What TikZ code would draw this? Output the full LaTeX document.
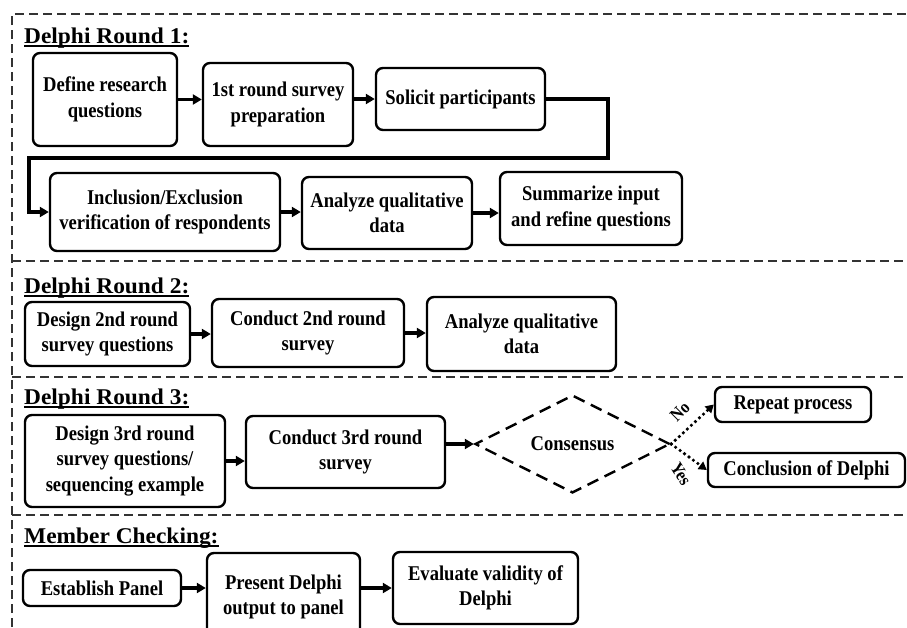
\documentclass[tikz,border=0pt]{standalone}
\usepackage{fontspec}
\usetikzlibrary{arrows.meta,positioning,shapes.geometric}
\newfontfamily\boxfont[FakeStretch=0.885]{Liberation Serif}
\newfontfamily\headfont[FakeStretch=1.04]{Liberation Serif}
\newcommand{\headline}[1]{\setbox0\hbox{#1}\rlap{\rule[-4pt]{\wd0}{1.8pt}}\box0}

\begin{document}
\begin{tikzpicture}[
 x=1pt,y=-1pt,
 box/.style={draw,rounded corners=7pt,line width=2.4pt,align=center,inner sep=2pt,
              font=\boxfont\bfseries\fontsize{21}{25.5}\selectfont},
 head/.style={anchor=base west,inner sep=0pt,
              font=\headfont\bfseries\fontsize{22.5}{26}\selectfont},
 decision/.style={diamond,draw,dash pattern=on 12pt off 7pt,line width=2.4pt,inner sep=0pt,
              font=\boxfont\bfseries\fontsize{21}{25.5}\selectfont},
 lbl/.style={inner sep=0pt,font=\boxfont\bfseries\fontsize{18}{20}\selectfont},
 arrow/.style={-{Triangle[length=9pt,width=10pt]},line width=3.2pt},
 dotarrow/.style={-{Triangle[length=8pt,width=9pt]},line width=3.6pt,line cap=round,
              dash pattern=on 0pt off 5.5pt},
 frame/.style={line width=1.3pt,dash pattern=on 9pt off 5pt,black!80}
]
\useasboundingbox (0,0) rectangle (907,627);

% dashed frame and section rules
\draw[frame] (12,627) -- (12,14) -- (907,14);
\draw[frame] (12,261) -- (907,261);
\draw[frame] (12,377) -- (907,377);
\draw[frame] (12,515) -- (907,515);

% Delphi round 1
\node[head] (t1) at (24,43) {\headline{Delphi Round 1:}};
\node[box,minimum width=144pt,minimum height=93pt] (b1) at (105,99.5) {Define research\\questions};
\node[box,minimum width=150pt,minimum height=83pt] (b2) at (278,104.5) {1st round survey\\preparation};
\node[box,minimum width=169pt,minimum height=62pt] (b3) at (460.5,99) {Solicit participants};
\node[box,minimum width=230pt,minimum height=78pt] (b4) at (165,212) {Inclusion/Exclusion\\verification of respondents};
\node[box,minimum width=170pt,minimum height=72pt] (b5) at (387,213) {Analyze qualitative\\data};
\node[box,minimum width=182pt,minimum height=73pt] (b6) at (591,208.5) {Summarize input\\and refine questions};
\coordinate (r1) at (608,158);
\coordinate (r2) at (29,158);
\draw[arrow] (b1.east) -- (b1.east -| b2.west);
\draw[arrow] (b3.west -| b2.east) -- (b3.west);
\draw[arrow] (b3.east) -| (r1) -- (r2) |- (b4.west);
\draw[arrow] (b4.east) -- (b4.east -| b5.west);
\draw[arrow] (b5.east) -- (b5.east -| b6.west);

% Delphi round 2
\node[head] (t2) at (24,293) {\headline{Delphi Round 2:}};
\node[box,minimum width=165pt,minimum height=64pt] (c1) at (107.5,334) {Design 2nd round\\survey questions};
\node[box,minimum width=192pt,minimum height=68pt] (c2) at (308,333) {Conduct 2nd round\\survey};
\node[box,minimum width=189pt,minimum height=74pt] (c3) at (521.5,334) {Analyze qualitative\\data};
\draw[arrow] (c1.east) -- (c1.east -| c2.west);
\draw[arrow] (c2.east) -- (c2.east -| c3.west);

% Delphi round 3
\node[head] (t3) at (24,404) {\headline{Delphi Round 3:}};
\node[box,minimum width=200pt,minimum height=92pt] (d1) at (125,461) {Design 3rd round\\survey questions/\\sequencing example};
\node[box,minimum width=199pt,minimum height=72pt] (d2) at (345.5,452) {Conduct 3rd round\\survey};
\node[decision,minimum width=195pt,minimum height=85pt] (dm) at (572.5,444) {Consensus};
\node[box,minimum width=156pt,minimum height=35pt] (e1) at (793,404.5) {Repeat process};
\node[box,minimum width=197pt,minimum height=34pt] (e2) at (806.5,470) {Conclusion of Delphi};
\draw[arrow] (d1.east) -- (d1.east -| d2.west);
\draw[arrow] (dm.west -| d2.east) -- (dm.west);
\draw[dotarrow] (dm.east) -- (e1.west);
\draw[dotarrow] (dm.east) -- (e2.west);
\node[lbl,rotate=45] (no) at (680,412) {No};
\node[lbl,rotate=-58] (yes) at (681,474) {Yes};

% member checking
\node[head] (t4) at (24,543) {\headline{Member Checking:}};
\node[box,minimum width=158pt,minimum height=36pt] (f1) at (102,588) {Establish Panel};
\node[box,minimum width=153pt,minimum height=88pt] (f2) at (283.5,597) {Present Delphi\\output to panel};
\node[box,minimum width=185pt,minimum height=72pt] (f3) at (485.5,588) {Evaluate validity of\\Delphi};
\draw[arrow] (f1.east) -- (f1.east -| f2.west);
\draw[arrow] (f3.west -| f2.east) -- (f3.west);
\end{tikzpicture}
\end{document}
